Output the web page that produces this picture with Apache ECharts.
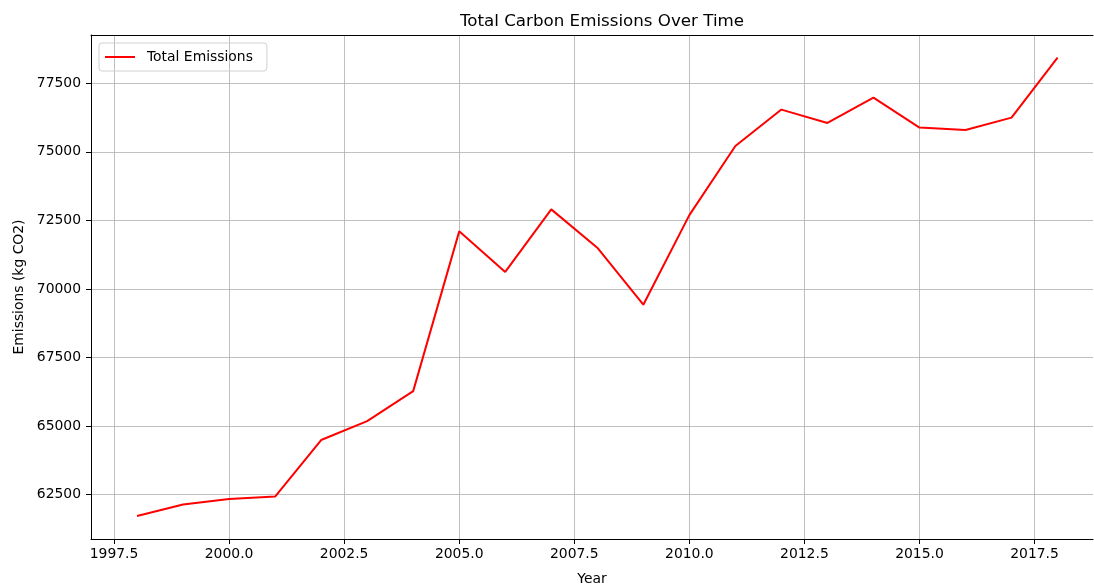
<!DOCTYPE html>
<html>
<head>
<meta charset="utf-8">
<script src="https://cdn.jsdelivr.net/npm/echarts@6/dist/echarts.min.js"></script>
<style>html,body{margin:0;padding:0;background:#fff;}#c{width:1094px;height:586px;}</style>
</head>
<body>
<div id="c"></div>
<script>
const years = [1998,1999,2000,2001,2002,2003,2004,2005,2006,2007,2008,2009,2010,2011,2012,2013,2014,2015,2016,2017,2018];
const emissions = [61720,62135,62343,62427,64490,65178,66272,72099,70620,72901,71503,69423,72690,75212,76540,76052,76977,75883,75796,76248,78438];
const xTicks = [1997.5,2000,2002.5,2005,2007.5,2010,2012.5,2015,2017.5];
const yTicks = [62500,65000,67500,70000,72500,75000,77500];

const FONT = 'DejaVu Sans';
const chart = echarts.init(document.getElementById('c'), null, {renderer:'canvas'});
const gridLine = {show:true, lineStyle:{color:'#b0b0b0', width:0.8}};
chart.setOption({
  animation:false,
  backgroundColor:'#fff',
  textStyle:{fontFamily:FONT},
  title:{text:'Total Carbon Emissions Over Time', left:597, top:8, textAlign:'center',
    textStyle:{fontFamily:FONT, fontSize:16.7, fontWeight:'normal', color:'#000'}},
  legend:{left:99, top:43, data:['Total Emissions'], icon:'rect', itemWidth:30, itemHeight:2,
    borderColor:'#d0d0d0', borderWidth:1, borderRadius:3, padding:[7,14,7,6],
    textStyle:{fontFamily:FONT, fontSize:13.9, color:'#000', padding:[0,0,0,7]}},
  grid:{left:91, top:35, right:1, bottom:47, containLabel:false, outerBoundsMode:'none'},
  xAxis:[{
    type:'value', min:1997, max:2018.77,
    name:'Year', nameLocation:'middle', nameGap:33,
    nameTextStyle:{fontFamily:FONT, fontSize:13.9, color:'#000'},
    axisLine:{show:true, lineStyle:{color:'#000', width:1}},
    axisTick:{show:true, inside:false, length:5, customValues:xTicks, lineStyle:{color:'#000'}},
    axisLabel:{customValues:xTicks, margin:8, fontFamily:FONT, fontSize:13.9, color:'#000',
      formatter:v=>Number(v).toFixed(1)},
    splitLine:gridLine
  },{
    type:'value', position:'top', min:1997, max:2018.77,
    axisLine:{show:true, onZero:false, lineStyle:{color:'#000', width:1}},
    axisTick:{show:false}, axisLabel:{show:false}, splitLine:{show:false}
  }],
  yAxis:{
    type:'value', min:60880, max:79260,
    name:'Emissions (kg CO2)', nameLocation:'middle', nameGap:63,
    nameTextStyle:{fontFamily:FONT, fontSize:13.9, color:'#000'},
    axisLine:{show:true, lineStyle:{color:'#000', width:1}},
    axisTick:{show:true, inside:false, length:5, customValues:yTicks, lineStyle:{color:'#000'}},
    axisLabel:{customValues:yTicks, margin:10, fontFamily:FONT, fontSize:13.9, color:'#000',
      formatter:v=>String(Math.round(v))},
    splitLine:gridLine
  },
  series:[{
    name:'Total Emissions', type:'line', xAxisIndex:0,
    data:years.map((y,i)=>[y, emissions[i]]),
    showSymbol:false, symbol:'none',
    lineStyle:{color:'#ff0000', width:2}, itemStyle:{color:'#ff0000'}
  }]
});
</script>
</body>
</html>
